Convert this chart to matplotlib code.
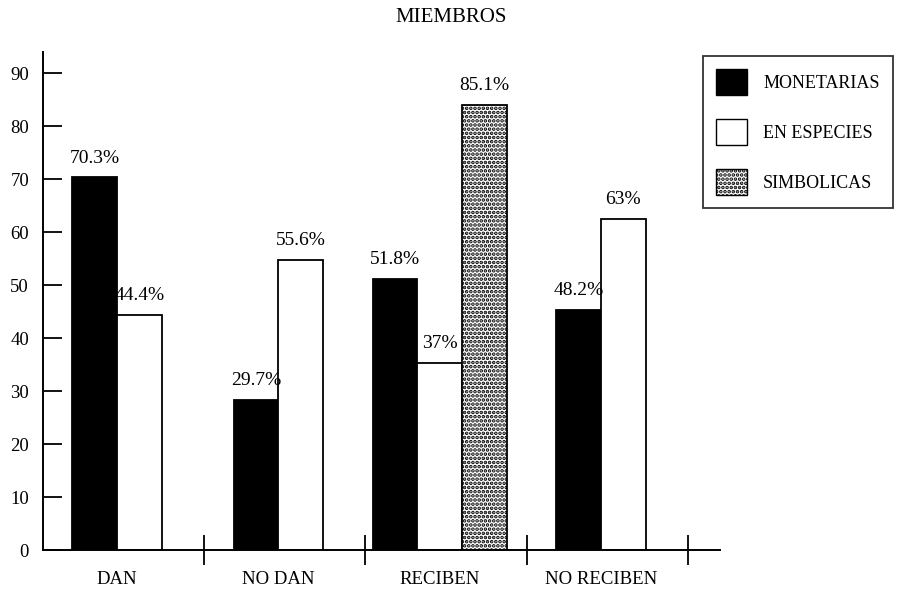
import numpy as np
import matplotlib
matplotlib.use("Agg")
import matplotlib.pyplot as plt
from matplotlib.patches import Patch

categories = ['DAN', 'NO DAN', 'RECIBEN', 'NO RECIBEN']
series_names = ['MONETARIAS', 'EN ESPECIES', 'SIMBOLICAS']

# bar heights as drawn in the figure
monetarias = [70.3, 28.3, 51.1, 45.3]
especies = [44.4, 54.7, 35.3, 62.5]
simbolicas = [np.nan, np.nan, 84.0, np.nan]

# printed labels
mon_labels = ['70.3%', '29.7%', '51.8%', '48.2%']
esp_labels = ['44.4%', '55.6%', '37%', '63%']
sim_labels = ['', '', '85.1%', '']

yticks = [0, 10, 20, 30, 40, 50, 60, 70, 80, 90]

plt.rcParams['font.family'] = ['Liberation Serif', 'DejaVu Serif']
plt.rcParams['hatch.linewidth'] = 1.8

fig = plt.figure(figsize=(9.03, 5.93), dpi=100)
ax = fig.add_axes([0.0476, 0.0725, 0.75, 0.84])

styles = [dict(facecolor='black', edgecolor='black'),
          dict(facecolor='white', edgecolor='black'),
          dict(facecolor='white', edgecolor='black', hatch='....')]
data = [monetarias, especies, simbolicas]
labels = [mon_labels, esp_labels, sim_labels]

w = 0.277
for i in range(len(categories)):
    present = [k for k in range(3) if not np.isnan(data[k][i])]
    n = len(present)
    c = i + 0.46
    for j, k in enumerate(present):
        x = c + (j - (n - 1) / 2) * w
        v = data[k][i]
        ax.bar(x, v, width=w, linewidth=1.3, zorder=2, **styles[k])
        ax.annotate(labels[k][i], (x, v), xytext=(0, 14), textcoords='offset points',
                    ha='center', va='center', fontsize=14)

ax.set_xlim(0, 4.2)
ax.set_ylim(0, 94)
ax.spines['top'].set_visible(False)
ax.spines['right'].set_visible(False)
ax.spines['left'].set_linewidth(1.4)
ax.spines['bottom'].set_linewidth(1.4)

ax.set_yticks(yticks)
ax.tick_params(axis='y', direction='in', length=14, width=1.3, labelsize=13.5, pad=10)

ax.set_xticks([1, 2, 3, 4])
ax.set_xticklabels([])
ax.tick_params(axis='x', which='major', direction='inout', length=22, width=1.3)
ax.set_xticks([i + 0.46 for i in range(len(categories))], minor=True)
ax.set_xticklabels(categories, minor=True, fontsize=13.5)
ax.tick_params(axis='x', which='minor', length=0, pad=15)

fig.text(0.5, 0.97, 'MIEMBROS', ha='center', va='center', fontsize=15)

handles = [Patch(**s) for s in styles]
leg = ax.legend(handles, series_names, loc='upper left', bbox_to_anchor=(0.778, 0.906),
                bbox_transform=fig.transFigure, fontsize=13, frameon=True, fancybox=False,
                handlelength=1.7, handleheight=1.8, labelspacing=1.35, borderpad=0.75,
                handletextpad=0.9, borderaxespad=0)
leg.get_frame().set_edgecolor('black')
leg.get_frame().set_linewidth(1.3)

fig.savefig('out.png', dpi=100)
